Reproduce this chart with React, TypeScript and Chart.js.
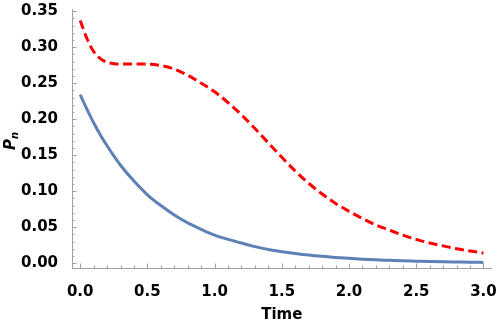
import React, { useEffect, useRef } from "react";
import { Chart, registerables } from "chart.js";

Chart.register(...registerables);

// ---- data ----
const times = [0, 0.05, 0.1, 0.15, 0.2, 0.25, 0.3, 0.4, 0.5, 0.6, 0.7, 0.8, 0.9, 1.0, 1.1, 1.2, 1.3, 1.4, 1.5, 1.6, 1.7, 1.8, 1.9, 2.0, 2.1, 2.2, 2.3, 2.4, 2.5, 2.6, 2.7, 2.8, 2.9, 3.0];
const blueValues = [0.234, 0.214, 0.195, 0.178, 0.163, 0.149, 0.136, 0.114, 0.095, 0.08, 0.067, 0.056, 0.047, 0.039, 0.033, 0.028, 0.023, 0.019, 0.016, 0.0135, 0.0113, 0.0095, 0.008, 0.0067, 0.0056, 0.0047, 0.004, 0.0033, 0.0028, 0.0023, 0.0019, 0.0016, 0.0013, 0.0011];
const redValues = [0.337, 0.312, 0.294, 0.284, 0.279, 0.277, 0.2765, 0.2765, 0.2765, 0.2745, 0.2695, 0.261, 0.25, 0.238, 0.223, 0.206, 0.187, 0.167, 0.147, 0.128, 0.111, 0.096, 0.083, 0.072, 0.062, 0.053, 0.046, 0.039, 0.033, 0.028, 0.024, 0.02, 0.017, 0.014];
const xTickValues = [0, 0.5, 1.0, 1.5, 2.0, 2.5, 3.0];
const yTickValues = [0, 0.05, 0.1, 0.15, 0.2, 0.25, 0.3, 0.35];
const xMinorStep = 0.1;
const yMinorStep = 0.01;
const xTitle = "Time";
const yTitleMain = "P";
const yTitleSub = "n";

const AXIS_COLOR = "#a0a0a0";
const FONT = "'DejaVu Sans', sans-serif";

const ticksPlugin = {
  id: "inwardTicks",
  afterDraw(chart: any) {
    const ctx = chart.ctx;
    const xs = chart.scales.x;
    const ys = chart.scales.y;
    const area = chart.chartArea;
    ctx.save();
    ctx.strokeStyle = AXIS_COLOR;
    ctx.lineWidth = 1;
    const xMax = xTickValues[xTickValues.length - 1];
    for (let i = 0; i <= Math.round(xMax / xMinorStep); i++) {
      const v = i * xMinorStep;
      const major = xTickValues.some((t) => Math.abs(t - v) < 1e-6);
      const px = Math.round(xs.getPixelForValue(v)) + 0.5;
      const len = major ? 4.5 : 2.5;
      ctx.beginPath();
      ctx.moveTo(px, area.bottom);
      ctx.lineTo(px, area.bottom - len);
      ctx.stroke();
    }
    const yMax = yTickValues[yTickValues.length - 1];
    for (let i = 0; i <= Math.round(yMax / yMinorStep); i++) {
      const v = i * yMinorStep;
      const major = yTickValues.some((t) => Math.abs(t - v) < 1e-6);
      const py = Math.round(ys.getPixelForValue(v)) + 0.5;
      const len = major ? 4.5 : 2.5;
      ctx.beginPath();
      ctx.moveTo(area.left, py);
      ctx.lineTo(area.left + len, py);
      ctx.stroke();
    }
    // y title with subscript
    ctx.fillStyle = "#000";
    ctx.translate(15, 141);
    ctx.rotate(-Math.PI / 2);
    ctx.font = `italic bold 15px ${FONT}`;
    const wP = ctx.measureText(yTitleMain).width;
    ctx.font = `italic bold 10px ${FONT}`;
    const wN = ctx.measureText(yTitleSub).width;
    const start = -(wP + wN) / 2;
    ctx.textBaseline = "alphabetic";
    ctx.textAlign = "left";
    ctx.font = `italic bold 15px ${FONT}`;
    ctx.fillText(yTitleMain, start, 0);
    ctx.font = `italic bold 10px ${FONT}`;
    ctx.fillText(yTitleSub, start + wP, 2.5);
    ctx.restore();
  },
};

export default function App() {
  const ref = useRef<HTMLCanvasElement>(null);
  useEffect(() => {
    if (!ref.current) return;
    const chart = new Chart(ref.current, {
      type: "line",
      data: {
        datasets: [
          {
            label: "blue",
            data: times.map((t, i) => ({ x: t, y: blueValues[i] })),
            borderColor: "#5E81B5",
            borderWidth: 3,
            pointRadius: 0,
            fill: false,
            cubicInterpolationMode: "monotone",
          },
          {
            label: "red",
            data: times.map((t, i) => ({ x: t, y: redValues[i] })),
            borderColor: "#FF0000",
            borderWidth: 3,
            borderDash: [9, 4.5],
            borderCapStyle: "butt",
            pointRadius: 0,
            fill: false,
            cubicInterpolationMode: "monotone",
          },
        ],
      },
      options: {
        responsive: false,
        animation: false,
        events: [],
        layout: { padding: { top: 9, right: 6.5, left: 0, bottom: 0 } },
        plugins: { legend: { display: false }, tooltip: { enabled: false } },
        scales: {
          x: {
            type: "linear",
            min: -0.061,
            max: 3.06,
            afterBuildTicks: (s: any) => {
              s.ticks = xTickValues.map((v) => ({ value: v }));
            },
            afterFit: (s: any) => {
              s.height = 60;
              s.paddingLeft = 0;
              s.paddingRight = 0;
              s.paddingTop = 0;
              s.paddingBottom = 0;
            },
            grid: { display: false },
            border: { display: true, color: AXIS_COLOR, width: 1 },
            ticks: {
              color: "#000",
              font: { family: FONT, size: 15, weight: "bold" },
              padding: 7,
              maxRotation: 0,
              autoSkip: false,
              callback: (v: any) => Number(v).toFixed(1),
            },
            title: {
              display: true,
              text: xTitle,
              color: "#000",
              font: { family: FONT, size: 15, weight: "bold" },
              padding: { top: 0, bottom: 4 },
            },
          },
          y: {
            type: "linear",
            min: -0.0067,
            max: 0.353,
            afterBuildTicks: (s: any) => {
              s.ticks = yTickValues.map((v) => ({ value: v }));
            },
            afterFit: (s: any) => {
              s.width = 72;
              s.paddingLeft = 0;
              s.paddingRight = 0;
              s.paddingTop = 0;
              s.paddingBottom = 0;
            },
            grid: { display: false },
            border: { display: true, color: AXIS_COLOR, width: 1 },
            ticks: {
              color: "#000",
              font: { family: FONT, size: 15, weight: "bold" },
              padding: 6,
              autoSkip: false,
              callback: (v: any) => Number(v).toFixed(2),
            },
          },
        },
      },
      plugins: [ticksPlugin],
    } as any);
    return () => chart.destroy();
  }, []);
  return (
    <div style={{ position: "absolute", left: 0, top: 0, width: 498, height: 328, background: "#fff" }}>
      <canvas ref={ref} width={498} height={328} />
    </div>
  );
}
